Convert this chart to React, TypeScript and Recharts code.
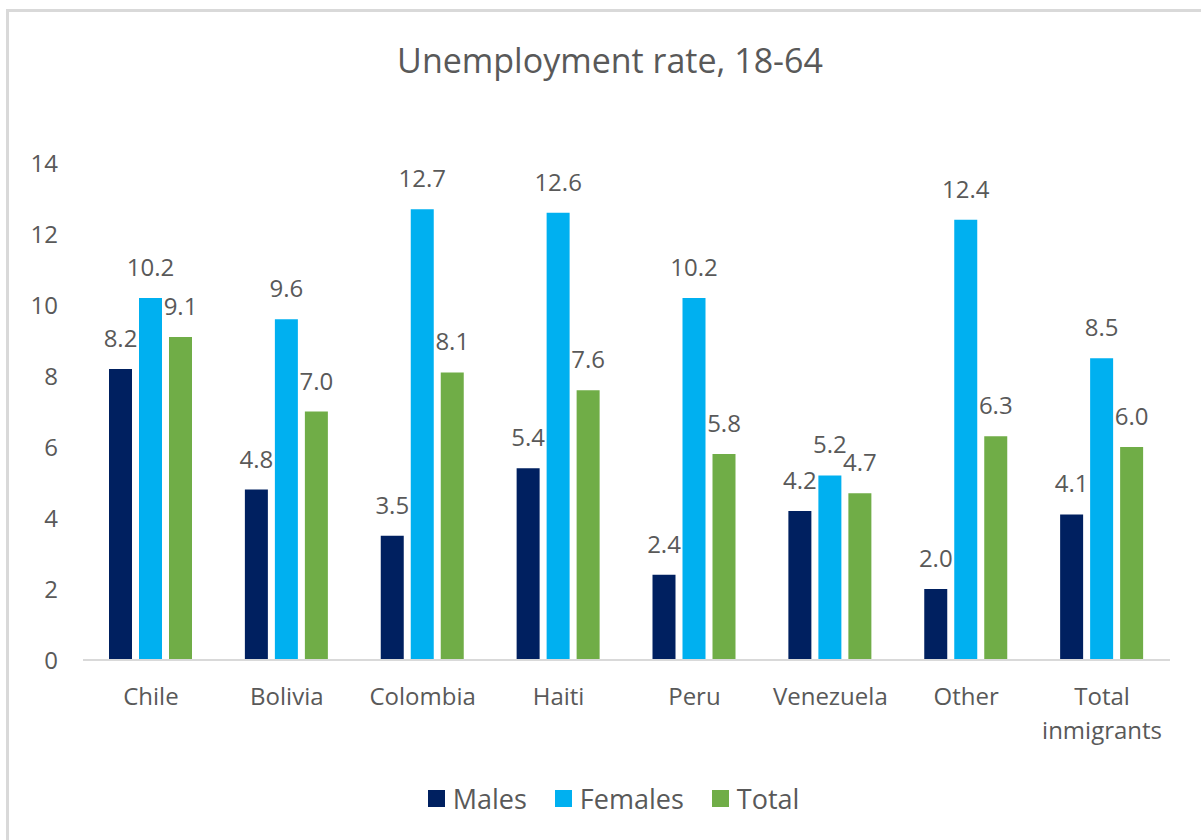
import React from 'react';
import { BarChart, Bar, XAxis, YAxis, Legend, LabelList } from 'recharts';

const countries = ['Chile', 'Bolivia', 'Colombia', 'Haiti', 'Peru', 'Venezuela', 'Other', 'Total inmigrants'];
const males = [8.2, 4.8, 3.5, 5.4, 2.4, 4.2, 2.0, 4.1];
const females = [10.2, 9.6, 12.7, 12.6, 10.2, 5.2, 12.4, 8.5];
const total = [9.1, 7.0, 8.1, 7.6, 5.8, 4.7, 6.3, 6.0];
const seriesNames = ['Males', 'Females', 'Total'];
const yTicks = [0, 2, 4, 6, 8, 10, 12, 14];

const data = countries.map((country, i) => ({
  country,
  males: males[i],
  females: females[i],
  total: total[i],
}));

const GRAY = '#595959';
const FONT = '"Open Sans", sans-serif';

// Excel wraps "Total inmigrants" onto two lines
const CountryTick = ({ x, y, payload }: any) => {
  const words = String(payload.value).split(' ');
  return (
    <text x={x} y={y} textAnchor="middle" fontSize={24} fill={GRAY} fontFamily={FONT}>
      {words.map((w, i) => (
        <tspan key={i} x={x} dy={i === 0 ? 17 : 34}>
          {w}
        </tspan>
      ))}
    </text>
  );
};

const LegendContent = ({ payload }: any) => {
  const items = seriesNames
    .map((n) => (payload || []).find((p: any) => p.value === n))
    .filter(Boolean);
  return (
    <div
      style={{
        display: 'flex',
        justifyContent: 'center',
        alignItems: 'center',
        height: 30,
        paddingLeft: 26,
        fontFamily: FONT,
        fontSize: 27,
        color: GRAY,
      }}
    >
      {items.map((p: any, i: number) => (
        <div key={p.value} style={{ display: 'flex', alignItems: 'center', marginLeft: i === 0 ? 0 : 28 }}>
          <span style={{ width: 17, height: 17, background: p.color, display: 'inline-block', marginRight: 8 }} />
          <span>{p.value}</span>
        </div>
      ))}
    </div>
  );
};

const fmt = (v: any) => Number(v).toFixed(1);

export default function App() {
  return (
    <div style={{ position: 'absolute', left: 0, top: 0, width: 1201, height: 840, overflow: 'hidden', background: '#fff', fontFamily: FONT }}>
      <div style={{ position: 'absolute', left: 6, top: 9, width: 1300, height: 900, border: '3px solid #d9d9d9' }} />
      <div style={{ position: 'absolute', left: 0, top: 0 }}>
        <BarChart
          width={1201}
          height={840}
          data={data}
          margin={{ top: 163, right: 31, left: 0, bottom: 90 }}
          barSize={23}
          barGap={7}
        >
          <text x={610} y={73} textAnchor="middle" fontSize={34} fill={GRAY} fontFamily={FONT}>
            Unemployment rate, 18-64
          </text>
          <XAxis
            dataKey="country"
            height={90}
            tickLine={false}
            tickSize={0}
            tickMargin={28}
            axisLine={{ stroke: '#d9d9d9', strokeWidth: 2 }}
            tick={(props: any) => <CountryTick {...props} />}
            interval={0}
          />
          <YAxis
            width={83}
            domain={[0, 14]}
            ticks={yTicks}
            axisLine={false}
            tickLine={false}
            tickSize={0}
            tickMargin={25}
            tick={{ fontSize: 24, fill: GRAY }}
          />
          <Legend
            verticalAlign="middle"
            align="center"
            layout="horizontal"
            wrapperStyle={{ top: 783, left: 0, width: 1201 }}
            content={<LegendContent />}
          />
          <Bar dataKey="males" name="Males" fill="#002060" isAnimationActive={false}>
            <LabelList dataKey="males" position="top" offset={22} fontSize={24} fill={GRAY} formatter={fmt} />
          </Bar>
          <Bar dataKey="females" name="Females" fill="#00B0F0" isAnimationActive={false}>
            <LabelList dataKey="females" position="top" offset={22} fontSize={24} fill={GRAY} formatter={fmt} />
          </Bar>
          <Bar dataKey="total" name="Total" fill="#70AD47" isAnimationActive={false}>
            <LabelList dataKey="total" position="top" offset={22} fontSize={24} fill={GRAY} formatter={fmt} />
          </Bar>
        </BarChart>
      </div>
    </div>
  );
}
